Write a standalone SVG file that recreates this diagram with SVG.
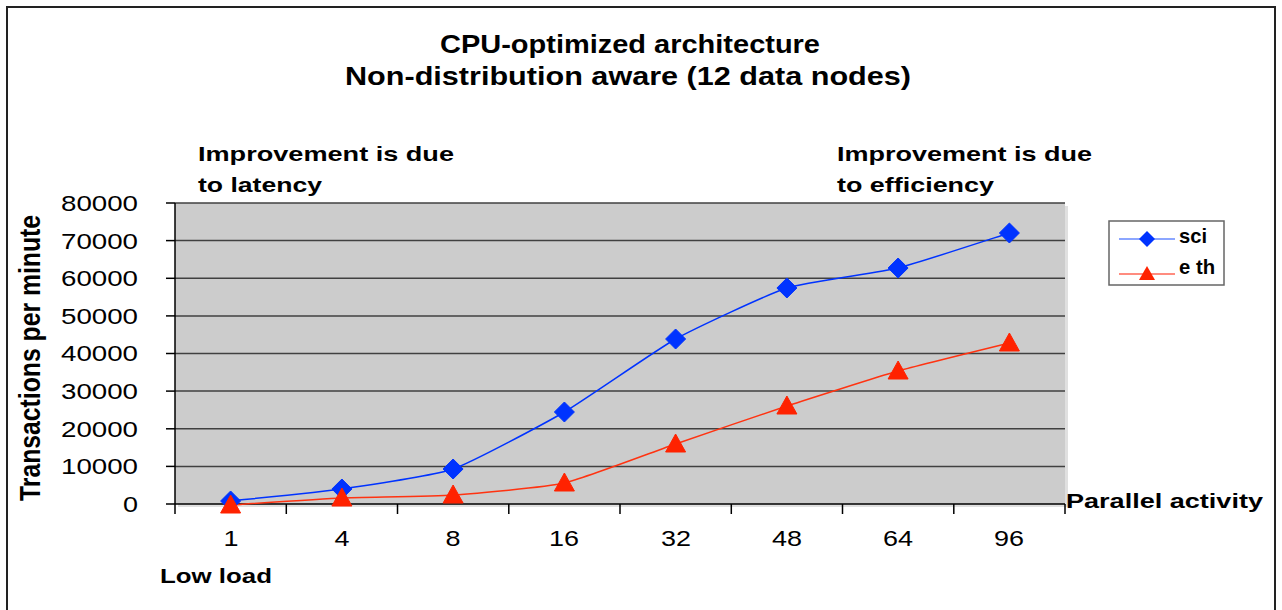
<svg xmlns="http://www.w3.org/2000/svg" width="1282" height="610" viewBox="0 0 1282 610">
<style>
.t{font-family:"Liberation Sans",Arial,sans-serif;fill:#000}
.b{font-weight:bold}
.num{font-size:22px}
.grid{stroke:#404040;stroke-width:1.5}
.ax{stroke:#000;stroke-width:1.5}
</style>
<defs>
<path id="dia" d="M0,-10 L10,0 L0,10 L-10,0 Z" fill="#0033ff" stroke="#0033ff" stroke-width="1"/>
<path id="tri" d="M0,-10 L10,8 L-10,8 Z" fill="#ff2200" stroke="#ff2200" stroke-width="1"/>
</defs>
<rect x="0" y="0" width="1282" height="610" fill="#fff"/>
<rect x="7" y="7" width="1268" height="610" fill="#fff" stroke="#222" stroke-width="2"/>
<g id="title">
<text class="t b" x="630" y="53" font-size="25" text-anchor="middle" textLength="380" lengthAdjust="spacingAndGlyphs">CPU-optimized architecture</text>
<text class="t b" x="628" y="85" font-size="25" text-anchor="middle" textLength="566" lengthAdjust="spacingAndGlyphs">Non-distribution aware (12 data nodes)</text>
</g>
<g id="notes">
<text class="t b" x="198" y="161" font-size="21" textLength="256" lengthAdjust="spacingAndGlyphs">Improvement is due</text>
<text class="t b" x="198" y="192" font-size="21" textLength="124" lengthAdjust="spacingAndGlyphs">to latency</text>
<text class="t b" x="837" y="161" font-size="21" textLength="255" lengthAdjust="spacingAndGlyphs">Improvement is due</text>
<text class="t b" x="837" y="192" font-size="21" textLength="157" lengthAdjust="spacingAndGlyphs">to efficiency</text>
</g>
<g id="plot">
<rect x="178" y="206" width="890" height="301" fill="#e0e0e0"/>
<rect x="175" y="203" width="890" height="301" fill="#cccccc"/>
<g class="grid">
<line x1="175" y1="203" x2="1065" y2="203"/>
<line x1="175" y1="240.6" x2="1065" y2="240.6"/>
<line x1="175" y1="278.3" x2="1065" y2="278.3"/>
<line x1="175" y1="315.9" x2="1065" y2="315.9"/>
<line x1="175" y1="353.5" x2="1065" y2="353.5"/>
<line x1="175" y1="391.1" x2="1065" y2="391.1"/>
<line x1="175" y1="428.8" x2="1065" y2="428.8"/>
<line x1="175" y1="466.4" x2="1065" y2="466.4"/>
</g>
<g class="ax">
<line x1="175" y1="203" x2="175" y2="514"/>
<line x1="166" y1="504" x2="1065" y2="504"/>
<line x1="166" y1="203" x2="175" y2="203"/>
<line x1="166" y1="240.6" x2="175" y2="240.6"/>
<line x1="166" y1="278.3" x2="175" y2="278.3"/>
<line x1="166" y1="315.9" x2="175" y2="315.9"/>
<line x1="166" y1="353.5" x2="175" y2="353.5"/>
<line x1="166" y1="391.1" x2="175" y2="391.1"/>
<line x1="166" y1="428.8" x2="175" y2="428.8"/>
<line x1="166" y1="466.4" x2="175" y2="466.4"/>
<line x1="286.3" y1="504" x2="286.3" y2="514"/>
<line x1="397.5" y1="504" x2="397.5" y2="514"/>
<line x1="508.8" y1="504" x2="508.8" y2="514"/>
<line x1="620" y1="504" x2="620" y2="514"/>
<line x1="731.3" y1="504" x2="731.3" y2="514"/>
<line x1="842.5" y1="504" x2="842.5" y2="514"/>
<line x1="953.8" y1="504" x2="953.8" y2="514"/>
<line x1="1065" y1="504" x2="1065" y2="514"/>
</g>
</g>
<g id="yaxis-labels" class="t num" text-anchor="end">
<text x="138" y="211" textLength="77" lengthAdjust="spacingAndGlyphs">80000</text>
<text x="138" y="249" textLength="77" lengthAdjust="spacingAndGlyphs">70000</text>
<text x="138" y="286" textLength="77" lengthAdjust="spacingAndGlyphs">60000</text>
<text x="138" y="324" textLength="77" lengthAdjust="spacingAndGlyphs">50000</text>
<text x="138" y="361" textLength="77" lengthAdjust="spacingAndGlyphs">40000</text>
<text x="138" y="399" textLength="77" lengthAdjust="spacingAndGlyphs">30000</text>
<text x="138" y="437" textLength="77" lengthAdjust="spacingAndGlyphs">20000</text>
<text x="138" y="474" textLength="77" lengthAdjust="spacingAndGlyphs">10000</text>
<text x="138" y="512" textLength="15" lengthAdjust="spacingAndGlyphs">0</text>
</g>
<text id="ytitle" class="t b" font-size="30" transform="translate(40,358) rotate(-90)" text-anchor="middle" textLength="286" lengthAdjust="spacingAndGlyphs">Transactions per minute</text>
<g id="xaxis-labels" class="t num" text-anchor="middle">
<text x="231" y="546" textLength="15" lengthAdjust="spacingAndGlyphs">1</text>
<text x="342" y="546" textLength="15" lengthAdjust="spacingAndGlyphs">4</text>
<text x="453" y="546" textLength="15" lengthAdjust="spacingAndGlyphs">8</text>
<text x="564" y="546" textLength="30" lengthAdjust="spacingAndGlyphs">16</text>
<text x="676" y="546" textLength="30" lengthAdjust="spacingAndGlyphs">32</text>
<text x="787" y="546" textLength="30" lengthAdjust="spacingAndGlyphs">48</text>
<text x="898" y="546" textLength="30" lengthAdjust="spacingAndGlyphs">64</text>
<text x="1009" y="546" textLength="30" lengthAdjust="spacingAndGlyphs">96</text>
</g>
<text id="lowload" class="t b" x="160" y="583" font-size="21" textLength="112" lengthAdjust="spacingAndGlyphs">Low load</text>
<text id="parallel" class="t b" x="1066" y="508" font-size="21" textLength="197" lengthAdjust="spacingAndGlyphs">Parallel activity</text>
<g id="connectors" fill="none" stroke-width="1.5">
<path stroke="#0033ff" d="M230.6,501 C239.9,500 323.4,491.7 341.9,489 C360.4,486.3 434.6,475.4 453.1,469 C471.6,462.6 545.9,422.8 564.4,412 C582.9,401.2 657.1,349.3 675.6,339 C694.1,328.7 768.4,293.9 786.9,288 C805.4,282.1 879.6,272.6 898.1,268 C916.6,263.4 1000.1,235.9 1009.4,233"/>
<path stroke="#ff3311" d="M230.6,505 C239.9,504.4 323.4,498.8 341.9,498 C360.4,497.2 434.6,496.3 453.1,495 C471.6,493.8 545.9,487.3 564.4,483 C582.9,478.8 657.1,450.4 675.6,444 C694.1,437.6 768.4,412.1 786.9,406 C805.4,399.9 879.6,376.3 898.1,371 C916.6,365.8 1000.1,345.3 1009.4,343"/>
</g>
<g id="sci-markers">
<use href="#dia" x="230.6" y="501"/>
<use href="#dia" x="341.9" y="489"/>
<use href="#dia" x="453.1" y="469"/>
<use href="#dia" x="564.4" y="412"/>
<use href="#dia" x="675.6" y="339"/>
<use href="#dia" x="786.9" y="288"/>
<use href="#dia" x="898.1" y="268"/>
<use href="#dia" x="1009.4" y="233"/>
</g>
<g id="eth-markers">
<use href="#tri" x="230.6" y="505"/>
<use href="#tri" x="341.9" y="498"/>
<use href="#tri" x="453.1" y="495"/>
<use href="#tri" x="564.4" y="483"/>
<use href="#tri" x="675.6" y="444"/>
<use href="#tri" x="786.9" y="406"/>
<use href="#tri" x="898.1" y="371"/>
<use href="#tri" x="1009.4" y="343"/>
</g>
<g id="legend">
<rect x="1109" y="221" width="115" height="64" fill="#fff" stroke="#666" stroke-width="1.5"/>
<line x1="1119" y1="239" x2="1175" y2="239" stroke="#6688ff" stroke-width="1.5"/>
<path d="M1147,231 L1155,239 L1147,247 L1139,239 Z" fill="#0033ff"/>
<line x1="1119" y1="274" x2="1175" y2="274" stroke="#ff6655" stroke-width="1.5"/>
<path d="M1147,266 L1155,280 L1139,280 Z" fill="#ff2200"/>
<text class="t b" x="1179" y="243" font-size="21" textLength="28" lengthAdjust="spacingAndGlyphs">sci</text>
<text class="t b" x="1179" y="274" font-size="21" textLength="36" lengthAdjust="spacingAndGlyphs">e th</text>
</g>
</svg>
